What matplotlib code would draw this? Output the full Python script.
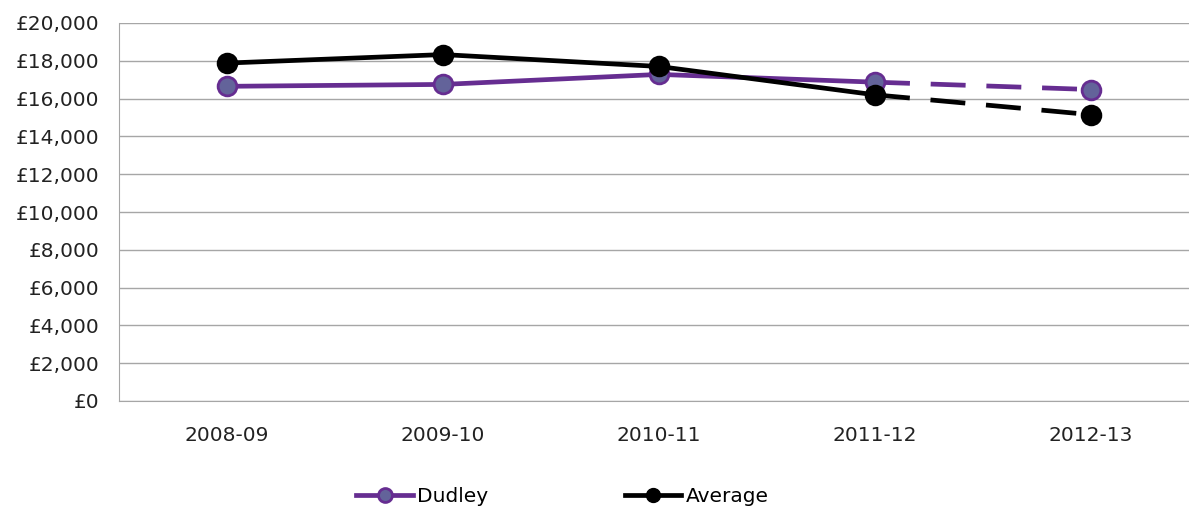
import matplotlib
matplotlib.use("Agg")
import matplotlib.pyplot as plt
from matplotlib.lines import Line2D
from matplotlib.ticker import FuncFormatter

plt.rcParams["font.family"] = ["DejaVu Sans"]

categories = ["2008-09", "2009-10", "2010-11", "2011-12", "2012-13"]
dudley = [16650, 16750, 17280, 16870, 16480]
average = [17880, 18330, 17700, 16200, 15150]
yticks = list(range(0, 20001, 2000))

W, H = 1189, 507
fig = plt.figure(figsize=(W / 100, H / 100), dpi=100)
left, right, top, bottom = 119, 1189, 23, 401
ax = fig.add_axes([left / W, (H - bottom) / H, (right - left) / W, (bottom - top) / H])

purple = "#662D91"
mfill = "#63639A"
x = list(range(len(categories)))

def draw(vals, color, mfc, mec, z):
    ax.plot(x[:4], vals[:4], color=color, lw=3.4, solid_capstyle="butt", zorder=z)
    ax.plot(x[3:], vals[3:], color=color, lw=3.4, dashes=(7.4, 4.4), zorder=z)
    ax.plot(x, vals, ls="none", marker="o", ms=13.5, mfc=mfc, mec=mec, mew=2, zorder=z + 0.5)

draw(dudley, purple, mfill, purple, 3)
draw(average, "black", "black", "black", 4)

ax.set_xlim(-0.5, 4.5 - 10 / 216)
ax.set_ylim(0, 20000)
ax.set_yticks(yticks)
ax.yaxis.set_major_formatter(FuncFormatter(lambda v, p: f"£{int(v):,}"))
ax.set_xticks(x)
ax.set_xticklabels(categories)
ax.grid(axis="y", color="#A6A6A6", lw=1)
ax.set_axisbelow(True)
for s in ["top", "right"]:
    ax.spines[s].set_visible(False)
ax.spines["left"].set_color("#A6A6A6")
ax.spines["bottom"].set_color("#A6A6A6")
ax.tick_params(axis="y", length=0, pad=14, labelsize=14.5, labelcolor="#222222")
ax.tick_params(axis="x", length=0, pad=18, labelsize=14.5, labelcolor="#222222")

handles = [
    Line2D([], [], color=purple, lw=3.4, marker="o", ms=10, mfc=mfill, mec=purple, mew=2),
    Line2D([], [], color="black", lw=3.4, marker="o", ms=10, mfc="black", mec="black"),
]
fig.legend(handles, ["Dudley", "Average"], loc="center", bbox_to_anchor=(0.473, 0.02),
           ncol=2, frameon=False, fontsize=14.5, handlelength=2.8, handletextpad=0.2,
           columnspacing=6.8)

fig.savefig("out.png", dpi=100)
